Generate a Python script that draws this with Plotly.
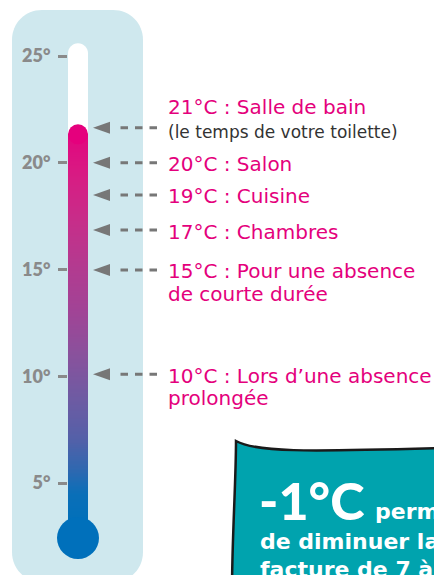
import numpy as np
import plotly.graph_objects as go

# ---------------- data ----------------
tick_vals = [5, 10, 15, 20, 25]
tick_text = ["5°", "10°", "15°", "20°", "25°"]
fill_level = 21.8          # top of the coloured column (°C)
tube_top = 25.6            # top of the empty (white) tube (°C)
arrow_pos = [21.64, 20.0, 18.49, 16.85, 14.98, 10.09]
label_main = ["21°C : Salle de bain", "20°C : Salon", "19°C : Cuisine",
              "17°C : Chambres", "15°C : Pour une absence",
              "10°C : Lors d’une absence"]
label_note = ["(le temps de votre toilette)", "", "", "", "", ""]
label_cont = ["", "", "", "", "de courte durée", "prolongée"]
box_big = "-1°C"
box_small = "permet"
box_lines = ["de diminuer la", "facture de 7 à 10 %"]

# ---------------- layout constants ----------------
W, H = 434, 575
Y0, Y1 = 0.691, 27.623
K = H / (Y1 - Y0)          # pixels per degree
MAG = "#e4007c"
GRAY = "#8a8a8a"
ARROW = "#777777"
FONT = "DejaVu Sans"

fig = go.Figure()

# mercury gradient column
yy = np.linspace(3.0, fill_level - 10 / K, 300)
colorscale = [
    [0.00, "#0070ba"], [0.08, "#0a6fb8"], [0.14, "#2f68b0"], [0.22, "#5560a8"],
    [0.33, "#715aa2"], [0.43, "#8a519c"], [0.53, "#a04496"], [0.64, "#b23b90"],
    [0.75, "#c52f8a"], [0.86, "#d61e84"], [1.00, "#e5007d"],
]
fig.add_trace(go.Heatmap(
    x=[68, 88], y=yy, z=[[v] for v in yy], zmin=3.0, zmax=fill_level,
    colorscale=colorscale, showscale=False, hoverinfo="skip",
    xaxis="x", yaxis="y",
))

shapes = []
# light blue background card (pixel coords on y2)
shapes.append(dict(type="path", xref="x", yref="y2", layer="below",
                   path="M 12,40 C 12,23 25,10 42,10 L 113,10 C 130,10 143,23 143,40 "
                        "L 143,552 C 143,569 130,582 113,582 L 42,582 C 25,582 12,569 12,552 Z",
                   fillcolor="#cfe8ee", line=dict(width=0)))
# white empty tube
tt = H - (tube_top - Y0) * K
shapes.append(dict(type="path", xref="x", yref="y2", layer="below",
                   path=f"M 68,530 L 68,{tt+10} C 68,{tt+4.5} 72.5,{tt} 78,{tt} "
                        f"C 83.5,{tt} 88,{tt+4.5} 88,{tt+10} L 88,530 Z",
                   fillcolor="white", line=dict(width=0)))
# rounded cap of the column
shapes.append(dict(type="circle", xref="x", yref="y", layer="above",
                   x0=68, x1=88, y0=fill_level - 20 / K, y1=fill_level,
                   fillcolor="#e5007d", line=dict(width=0)))
# bulb
shapes.append(dict(type="circle", xref="x", yref="y2", layer="above",
                   x0=57, x1=99, y0=517, y1=559,
                   fillcolor="#0070bb", line=dict(width=0)))
# arrows
for p in arrow_pos:
    shapes.append(dict(type="path", xref="x", yref="y", ysizemode="pixel", yanchor=p,
                       path="M 93,0 L 110,6 L 110,-6 Z",
                       fillcolor=ARROW, line=dict(width=0)))
    shapes.append(dict(type="line", xref="x", yref="y", x0=120.5, x1=158, y0=p, y1=p,
                       line=dict(color=ARROW, width=3, dash="7.5px,7px")))
# teal box
shapes.append(dict(type="path", xref="x", yref="y2", layer="above",
                   path="M 236,441 C 256,452 300,452 445,448 L 445,590 L 232,590 "
                        "C 232,540 236,480 236,441 Z",
                   fillcolor="#00a3ae", line=dict(color="#1a1a1a", width=2.5)))

annotations = []
for p, m, n, c in zip(arrow_pos, label_main, label_note, label_cont):
    if n:
        annotations.append(dict(x=166, y=p + 21 / K, text=m))
        annotations.append(dict(x=166, y=p - 4.5 / K, text=n,
                                font=dict(family=FONT, size=17, color="#333333")))
    else:
        annotations.append(dict(x=166, y=p - 1.5 / K, text=m))
        if c:
            annotations.append(dict(x=166, y=p - 24 / K, text=c))
for a in annotations:
    a.update(xref="x", yref="y", xanchor="left", yanchor="middle", showarrow=False)
    a.setdefault("font", dict(family=FONT, size=20, color=MAG))

annotations.append(dict(x=257, y=500, xref="x", yref="y2", xanchor="left", yanchor="middle",
                        text=box_big, showarrow=False,
                        font=dict(family="Lato", size=52, color="white", weight=900)))
annotations.append(dict(x=373, y=511, xref="x", yref="y2", xanchor="left", yanchor="middle",
                        text=box_small, showarrow=False,
                        font=dict(family=FONT, size=22, color="white", weight="bold")))
for i, t in enumerate(box_lines):
    annotations.append(dict(x=258, y=541 + 28 * i, xref="x", yref="y2", xanchor="left",
                            yanchor="middle", text=t, showarrow=False,
                            font=dict(family=FONT, size=22, color="white", weight="bold")))

fig.update_layout(
    width=W, height=H, margin=dict(l=0, r=0, t=0, b=0),
    paper_bgcolor="white", plot_bgcolor="rgba(0,0,0,0)",
    showlegend=False,
    xaxis=dict(range=[0, W], visible=False, fixedrange=True),
    yaxis=dict(range=[Y0, Y1], anchor="free", position=67 / W, side="left",
               tickvals=tick_vals, ticktext=tick_text, ticks="outside",
               ticklen=9, tickwidth=3, tickcolor=GRAY, ticklabelstandoff=4,
               tickfont=dict(family="Lato", size=18, color=GRAY, weight=800),
               showgrid=False, zeroline=False, showline=False, fixedrange=True),
    yaxis2=dict(range=[H, 0], overlaying="y", visible=False, fixedrange=True),
    shapes=shapes, annotations=annotations,
)

fig.write_html("out.html", post_script="document.body.style.margin='0px';",
               config={"displayModeBar": False})
